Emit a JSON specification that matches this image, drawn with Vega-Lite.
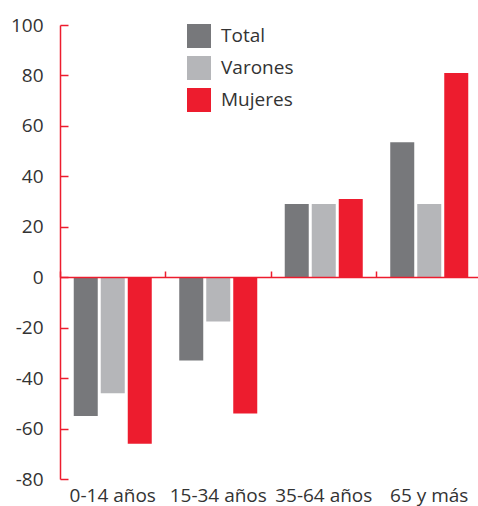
{
  "$schema": "https://vega.github.io/schema/vega-lite/v6.json",
  "width": 422,
  "height": 454,
  "autosize": {"type": "none"},
  "padding": {"left": 60, "top": 25, "right": 0, "bottom": 27},
  "background": "white",
  "config": {
    "view": {"stroke": null},
    "font": "Open Sans",
    "axis": {"grid": false, "labelFont": "Open Sans", "labelColor": "#333333"}
  },
  "data": {
    "values": [
      {"grupo": "0-14 años", "serie": "Total", "valor": -55},
      {"grupo": "0-14 años", "serie": "Varones", "valor": -46},
      {"grupo": "0-14 años", "serie": "Mujeres", "valor": -66},
      {"grupo": "15-34 años", "serie": "Total", "valor": -33},
      {"grupo": "15-34 años", "serie": "Varones", "valor": -17.6},
      {"grupo": "15-34 años", "serie": "Mujeres", "valor": -54},
      {"grupo": "35-64 años", "serie": "Total", "valor": 29},
      {"grupo": "35-64 años", "serie": "Varones", "valor": 29},
      {"grupo": "35-64 años", "serie": "Mujeres", "valor": 31},
      {"grupo": "65 y más", "serie": "Total", "valor": 53.5},
      {"grupo": "65 y más", "serie": "Varones", "valor": 29},
      {"grupo": "65 y más", "serie": "Mujeres", "valor": 81}
    ]
  },
  "layer": [
    {
      "mark": {"type": "bar"},
      "encoding": {
        "x": {
          "field": "grupo", "type": "nominal", "sort": null,
          "scale": {"paddingInner": 0, "paddingOuter": 0},
          "axis": {"title": null, "orient": "bottom", "domain": false, "ticks": false, "labelAngle": 0, "labelFontSize": 19, "labelPadding": 7}
        },
        "xOffset": {
          "field": "serie", "type": "nominal", "sort": ["Total", "Varones", "Mujeres"],
          "scale": {"paddingInner": 0.111, "paddingOuter": 0.509}
        },
        "y": {
          "field": "valor", "type": "quantitative",
          "scale": {"domain": [-80, 100], "nice": false, "zero": false},
          "axis": {"title": null, "values": [-80, -60, -40, -20, 0, 20, 40, 60, 80, 100], "labelExpr": "'' + datum.value", "domainColor": "#ed1c2e", "domainWidth": 1.5, "tickColor": "#ed1c2e", "tickWidth": 1.5, "tickSize": -8, "labelPadding": 25, "labelFontSize": 19}
        },
        "color": {
          "field": "serie", "type": "nominal", "sort": ["Total", "Varones", "Mujeres"],
          "scale": {"domain": ["Total", "Varones", "Mujeres"], "range": ["#77787b", "#b5b6b9", "#ed1c2e"]},
          "legend": {"title": null, "orient": "none", "legendX": 127, "legendY": -1, "symbolType": "square", "symbolSize": 576, "symbolStrokeWidth": 0, "symbolOpacity": 1, "rowPadding": 8, "labelFontSize": 19, "labelColor": "#333333", "labelOffset": 10, "padding": 0}
        }
      }
    },
    {
      "mark": {"type": "bar", "opacity": 0},
      "encoding": {
        "x": {
          "field": "grupo", "type": "nominal", "sort": null,
          "axis": {"title": null, "orient": "top", "offset": -252, "labels": false, "domainColor": "#ed1c2e", "domainWidth": 1.5, "tickColor": "#ed1c2e", "tickWidth": 1.5, "tickSize": 6, "bandPosition": 0, "zindex": 1}
        }
      }
    }
  ],
  "resolve": {"axis": {"x": "independent"}}
}
